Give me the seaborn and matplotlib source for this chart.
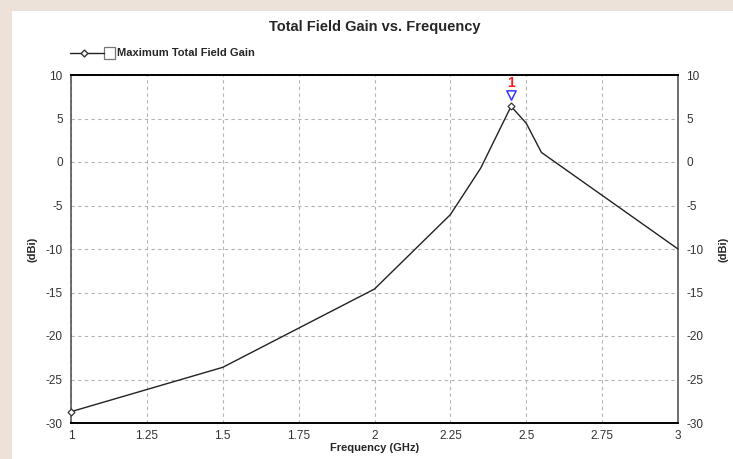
import matplotlib
matplotlib.use("Agg")
import matplotlib.pyplot as plt
import seaborn as sns
import pandas as pd
from matplotlib.lines import Line2D
from matplotlib.patches import Rectangle

# ---- data ----
freq = [1.0, 1.5, 2.0, 2.25, 2.35, 2.45, 2.5, 2.55, 3.0]
gain = [-28.7, -23.6, -14.6, -6.05, -0.7, 6.4, 4.45, 1.1, -10.0]
marker_freq = [2.45]
marker_y = [7.7]
marker_label = ["1"]
x_ticks = [1, 1.25, 1.5, 1.75, 2, 2.25, 2.5, 2.75, 3]
x_ticklabels = ["1", "1.25", "1.5", "1.75", "2", "2.25", "2.5", "2.75", "3"]
y_ticks = [-30, -25, -20, -15, -10, -5, 0, 5, 10]
title = "Total Field Gain vs. Frequency"
series_name = "Maximum Total Field Gain"
xlabel = "Frequency (GHz)"
ylabel = "(dBi)"

sns.set_style("white")
fam = ["Liberation Sans Narrow", "Liberation Sans", "DejaVu Sans"]
plt.rcParams["font.family"] = fam
plt.rcParams["axes.unicode_minus"] = False

W, H = 733, 459
fig = plt.figure(figsize=(W / 100, H / 100), dpi=100)
fig.patch.set_facecolor("#ece2da")
# white panel
fig.patches.append(Rectangle((12 / W, 0), 1, 1 - 11 / H, transform=fig.transFigure,
                             facecolor="white", edgecolor="none", zorder=-10))

ax = fig.add_axes([71 / W, 1 - 423 / H, (678 - 71) / W, (423 - 75) / H])
ax.set_facecolor("white")

df = pd.DataFrame({"freq": freq, "gain": gain})
sns.lineplot(data=df, x="freq", y="gain", ax=ax, color="#222222", linewidth=1.0,
             marker="D", markersize=3.5, markerfacecolor="white", markeredgecolor="#333333",
             markeredgewidth=0.9, markevery=[0, 5], zorder=3, clip_on=False)

# marker triangle + label
ax.scatter(marker_freq, marker_y, marker="v", s=45, facecolors="white",
           edgecolors="#3a3aff", linewidths=1.1, zorder=4)
for fx, fy, lab in zip(marker_freq, marker_y, marker_label):
    ax.text(fx, fy + 1.35, lab, color="#ff1a1a", fontsize=10, fontweight="bold",
            ha="center", va="center", family=["Liberation Sans", "DejaVu Sans"])

ax.set_xlim(1, 3)
ax.set_ylim(-30, 10)
ax.set_xticks(x_ticks)
ax.set_xticklabels(x_ticklabels)
ax.set_yticks(y_ticks)
ax.grid(True, color="#b4b4b4", linestyle=(0, (3, 3)), linewidth=0.8)
ax.tick_params(axis="both", length=0, labelsize=8.5, labelcolor="#333333")
ax.tick_params(axis="x", pad=5)
ax.tick_params(axis="y", pad=6)
ax.set_xlabel(xlabel, fontsize=8, fontweight="bold", labelpad=1)
ax.set_ylabel(ylabel, fontsize=8, fontweight="bold", labelpad=6)

for s in ["top", "bottom"]:
    ax.spines[s].set_color("black")
    ax.spines[s].set_linewidth(1.4)
for s in ["left", "right"]:
    ax.spines[s].set_color("#555555")
    ax.spines[s].set_linewidth(1.2)

ax2 = ax.twinx()
ax2.set_ylim(-30, 10)
ax2.set_yticks(y_ticks)
ax2.tick_params(axis="y", length=0, labelsize=8.5, labelcolor="#333333", pad=6)
ax2.set_ylabel(ylabel, fontsize=8, fontweight="bold", labelpad=11)
for s in ax2.spines.values():
    s.set_visible(False)

ax.set_title(title, fontsize=10.5, fontweight="bold", pad=32,
             family=["Liberation Sans", "DejaVu Sans"])

# legend (drawn in figure coordinates)
ly = 1 - 53 / H
fig.lines.append(Line2D([70 / W, 84 / W, 104 / W], [ly, ly, ly], transform=fig.transFigure,
                        color="#222222", linewidth=1.0, marker="D", markersize=3.5,
                        markerfacecolor="white", markeredgecolor="#333333", markevery=[1]))
fig.patches.append(Rectangle((104 / W, 1 - 59 / H), 11 / W, 12 / H, transform=fig.transFigure,
                             facecolor="white", edgecolor="#777777", linewidth=0.9))
fig.text(117 / W, ly, series_name, fontsize=8, fontweight="bold", va="center", ha="left")

fig.savefig("out.png", dpi=100)
